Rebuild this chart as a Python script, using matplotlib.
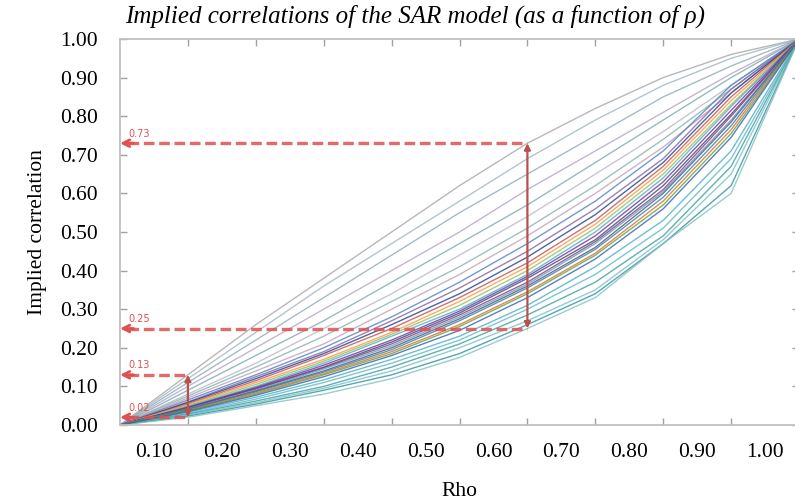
import numpy as np
import matplotlib.pyplot as plt

# rho grid of the curves (points sit on the tick marks)
rho = [0.0, 0.1, 0.2, 0.3, 0.4, 0.5, 0.6, 0.7, 0.8, 0.9, 1.0]

x_labels = ["0.10", "0.20", "0.30", "0.40", "0.50", "0.60", "0.70", "0.80", "0.90", "1.00"]
y_labels = ["0.00", "0.10", "0.20", "0.30", "0.40", "0.50", "0.60", "0.70", "0.80", "0.90", "1.00"]

# implied correlation, one row per pair of regions
upper_lines = [
    [0, .130, .260, .380, .500, .620, .730, .820, .900, .960, 1],
    [0, .120, .240, .360, .470, .580, .690, .790, .880, .950, 1],
    [0, .110, .220, .330, .440, .550, .650, .750, .850, .930, 1],
    [0, .100, .200, .300, .400, .500, .610, .710, .810, .910, 1],
    [0, .090, .180, .270, .370, .470, .570, .680, .790, .900, 1],
    [0, .080, .160, .250, .340, .440, .540, .650, .760, .880, 1],
    [0, .075, .150, .230, .320, .410, .510, .620, .740, .870, 1],
    [0, .070, .140, .210, .300, .390, .490, .600, .720, .860, 1],
]
bundle_lines = [
    [0, .065, .130, .200, .280, .370, .470, .580, .710, .880, 1],
    [0, .060, .125, .190, .270, .355, .450, .560, .690, .870, 1],
    [0, .058, .120, .185, .260, .340, .435, .545, .680, .860, 1],
    [0, .055, .115, .180, .250, .330, .420, .530, .670, .850, 1],
    [0, .053, .110, .170, .240, .320, .410, .520, .660, .840, 1],
    [0, .050, .105, .165, .235, .310, .400, .510, .650, .830, 1],
    [0, .048, .100, .160, .230, .300, .390, .500, .640, .825, 1],
    [0, .046, .097, .155, .220, .295, .385, .490, .630, .815, 1],
    [0, .045, .095, .150, .215, .290, .380, .480, .620, .805, 1],
    [0, .044, .093, .148, .210, .285, .370, .475, .610, .800, 1],
    [0, .042, .090, .145, .205, .280, .365, .470, .605, .790, 1],
    [0, .041, .088, .140, .200, .275, .360, .460, .600, .785, 1],
    [0, .040, .086, .137, .195, .270, .355, .455, .590, .775, 1],
    [0, .038, .083, .133, .190, .260, .345, .445, .580, .765, 1],
    [0, .037, .080, .130, .185, .255, .340, .440, .570, .755, 1],
    [0, .035, .077, .125, .180, .245, .330, .430, .560, .745, 1],
]
lower_lines = [
    [0, .033, .072, .117, .170, .230, .310, .410, .530, .710, 1],
    [0, .030, .067, .110, .160, .220, .300, .390, .510, .690, 1],
    [0, .028, .062, .100, .150, .210, .285, .370, .490, .670, 1],
    [0, .026, .058, .095, .140, .200, .270, .350, .480, .650, 1],
    [0, .023, .054, .090, .130, .185, .260, .340, .470, .620, 1],
    [0, .020, .050, .080, .120, .175, .250, .330, .470, .600, 1],
]

upper_colors = ["#a6a6a6", "#9fb6c0", "#8faab8", "#b4a4c4", "#7fa7b5",
                "#b8b8c8", "#88b0b0", "#c0a0b8"]
bundle_colors = ["#4f81bd", "#8064a2", "#1f3f8f", "#c0504d", "#f79646", "#9bbb59",
                 "#4bacc6", "#7030a0", "#2c4d75", "#a0307a", "#46aac5", "#604a7b",
                 "#31859c", "#d07030", "#6a9a3a", "#3060b0"]
lower_colors = ["#4bacc6", "#5fb8c8", "#3b9c9c", "#76c0c8", "#2f8f9f", "#80c0c0"]

# the red markers: rho where the range is read, and the min / max there
marked_rho = [0.1, 0.6]
marked_low = [0.02, 0.25]
marked_high = [0.13, 0.73]

fig = plt.figure(figsize=(7.95, 5.03), dpi=100)
ax = fig.add_axes([120 / 795, 78 / 503, 679 / 795, 386 / 503])

for rows, cols in [(upper_lines, upper_colors), (lower_lines, lower_colors),
                   (bundle_lines, bundle_colors)]:
    for vals, c in zip(rows, cols):
        ax.plot(rho, vals, color=c, lw=1.0, alpha=0.8)

red = "#e05050"
dark_red = "#b8504c"
for r, lo, hi in zip(marked_rho, marked_low, marked_high):
    ax.annotate("", xy=(r, hi), xytext=(r, lo),
                arrowprops=dict(arrowstyle="<|-|>", color=dark_red, lw=1.6,
                                mutation_scale=9, shrinkA=0, shrinkB=0))
    for v in (lo, hi):
        ax.plot([0.012, r], [v, v], color=red, lw=2.4, ls=(0, (3.2, 1.4)), alpha=0.85)
        ax.annotate("", xy=(0.0, v), xytext=(0.02, v),
                    arrowprops=dict(arrowstyle="->", color=red, lw=2.0,
                                    mutation_scale=12, shrinkA=0, shrinkB=0))
        ax.text(0.012, v + 0.012, f"{v:.2f}", color=red, fontsize=7,
                family="DejaVu Sans", va="bottom", ha="left")

ax.set_xlim(0, 1)
ax.set_ylim(0, 1)

ax.set_xticks(np.arange(0.05, 1.0, 0.1), x_labels)
ax.set_xticks(np.arange(0.1, 0.95, 0.1), minor=True)
ax.set_yticks(np.arange(0, 1.01, 0.1), y_labels)
ax.tick_params(axis="x", which="major", length=0, pad=13)
ax.tick_params(axis="x", which="minor", length=5, direction="in", top=True,
               color="#a0a0a0", width=1)
ax.tick_params(axis="y", which="major", length=5, direction="in", right=True,
               color="#a0a0a0", width=1, pad=16)
for lab in ax.get_xticklabels() + ax.get_yticklabels():
    lab.set_family("Liberation Serif")
    lab.set_fontsize(15.5)

for s in ax.spines.values():
    s.set_color("#c0c0c0")
    s.set_linewidth(1.3)

ax.set_xlabel("Rho", family="Liberation Serif", fontsize=15.5, labelpad=14)
ax.set_ylabel("Implied correlation", family="Liberation Serif", fontsize=15.5, labelpad=9)
fig.text(0.522, 0.968, "Implied correlations of the SAR model (as a function of \u03c1)",
         family="Liberation Serif", style="italic", fontsize=18, ha="center", va="center")

fig.savefig("out.png", dpi=100)
